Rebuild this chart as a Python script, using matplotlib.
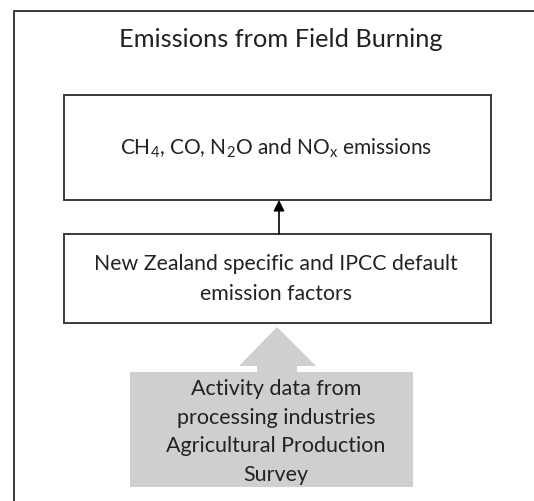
import matplotlib
matplotlib.use("Agg")
import matplotlib.pyplot as plt
from matplotlib.patches import Rectangle, Polygon

plt.rcParams['font.family'] = ['Lato', 'DejaVu Sans']
plt.rcParams['mathtext.fontset'] = 'custom'
plt.rcParams['mathtext.rm'] = 'Lato'
plt.rcParams['mathtext.it'] = 'Lato'

TITLE = "Emissions from Field Burning"
TOP_BOX_TEXT = r"CH$_4$, CO, N$_2$O and NO$_x$ emissions"
MID_BOX_TEXT = ["New Zealand specific and IPCC default", "emission factors"]
INPUT_TEXT = ["Activity data from", "processing industries",
              "Agricultural Production", "Survey"]

W, H = 534, 501
EDGE = '#3a3a3a'
TEXT = '#222222'
GREY = '#d0cece'

fig = plt.figure(figsize=(W / 100, H / 100), dpi=100)
ax = fig.add_axes([0, 0, 1, 1])
ax.set_xlim(0, W)
ax.set_ylim(H, 0)
ax.axis('off')

# outer frame (cut at right and bottom)
ax.plot([14, 14, W + 5], [H + 5, 11, 11], color=EDGE, lw=1.4)
ax.text(281, 47, TITLE, ha='center', va='baseline', fontsize=18.3, color=TEXT)

# top box
ax.add_patch(Rectangle((64, 95), 427, 105, fill=False, ec=EDGE, lw=1.4))
ax.text(276, 155, TOP_BOX_TEXT, ha='center', va='baseline', fontsize=15, color=TEXT)

# middle box
ax.add_patch(Rectangle((64, 234), 427, 89, fill=False, ec=EDGE, lw=1.4))
for i, line in enumerate(MID_BOX_TEXT):
    ax.text(276, 270 + i * 30, line, ha='center', va='baseline', fontsize=15.3, color=TEXT)

# black arrow between boxes
ax.annotate('', xy=(279, 200), xytext=(279, 234),
            arrowprops=dict(arrowstyle='-|>', color='black', lw=1.2,
                            mutation_scale=16, shrinkA=0, shrinkB=0))

# grey block arrow with activity data
ax.add_patch(Polygon([(130, 487), (130, 372), (257, 372), (257, 366), (239, 366),
                      (277, 327), (316, 366), (297, 366), (297, 372),
                      (413, 372), (413, 487)], closed=True, fc=GREY, ec='none'))
for i, line in enumerate(INPUT_TEXT):
    ax.text(276, 395 + i * 28.7, line, ha='center', va='baseline', fontsize=15.5, color=TEXT)

fig.savefig('out.png', dpi=100, facecolor='white')
